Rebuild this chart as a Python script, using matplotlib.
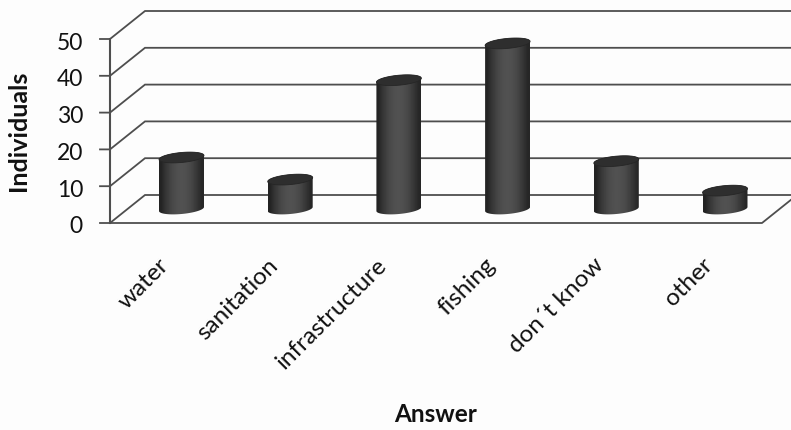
#!/usr/bin/env python3
import numpy as np
import matplotlib
matplotlib.use('Agg')
from matplotlib import pyplot as plt
from matplotlib.patches import PathPatch, Polygon
from matplotlib.path import Path

plt.rcParams['font.family'] = ['Lato', 'DejaVu Sans']

##### DATA
answers = ['water', 'sanitation', 'infrastructure', 'fishing', 'don\u00b4t know', 'other']
individuals = [14, 8, 35, 45, 13, 5]
y_ticks = [0, 10, 20, 30, 40, 50]

##### SCALES (one category = 108.7 px, one individual = 3.68 px)
PX_X = 108.7
PX_Y = 3.68
X_LEFT = -181.5 / PX_X
X_RIGHT = (791 - 181.5) / PX_X
Y_BOTTOM = (223 - 430) / PX_Y
Y_TOP = 223 / PX_Y

# oblique offset of the back wall and of the bars standing on the floor
DEPTH_X = 35 / PX_X
DEPTH_Y = 28 / PX_Y
BAR_LIFT = 14 / PX_Y
BAR_RX = 22.5 / PX_X
BAR_RY = 5.0 / PX_Y
BAR_TILT = 2.0 / PX_Y

LINE = '#4e4e4e'
TEXT = '#111111'


def rim(cx, cy, start, stop):
    # points along a slightly tilted ellipse
    t = np.linspace(start, stop, 60)
    return np.column_stack([cx + BAR_RX * np.cos(t),
                            cy + BAR_RY * np.sin(t) + BAR_TILT * np.cos(t)])


def cylinder(ax, cx, value, shade):
    base = BAR_LIFT
    top = BAR_LIFT + value
    # body: upper half of the top rim joined to the lower half of the base rim
    outline = np.vstack([rim(cx, top, 0, np.pi), rim(cx, base, np.pi, 2 * np.pi)])
    im = ax.imshow(shade, extent=[cx - BAR_RX, cx + BAR_RX, base - 2, top + 2],
                   cmap='gray', vmin=0, vmax=1, aspect='auto', zorder=3,
                   interpolation='bilinear')
    clip = PathPatch(Path(outline), transform=ax.transData, facecolor='none', edgecolor='none')
    ax.add_patch(clip)
    im.set_clip_path(clip)
    ax.add_patch(Polygon(rim(cx, top, 0, 2 * np.pi), closed=True, facecolor='#2e2e2e',
                         edgecolor='#262626', linewidth=0.6, zorder=4))


fig = plt.figure(figsize=(7.91, 4.30), dpi=100, facecolor='#fdfdfd')
ax = fig.add_axes([0, 0, 1, 1])
ax.set_xlim(X_LEFT, X_RIGHT)
ax.set_ylim(Y_BOTTOM, Y_TOP)
ax.axis('off')

x0 = (110 - 181.5) / PX_X
x_floor_end = (762 - 181.5) / PX_X
tick_len = 10 / PX_X

# walls and gridlines
for v in y_ticks:
    ax.plot([x0 - tick_len, x0, x0 + DEPTH_X, X_RIGHT], [v, v, v + DEPTH_Y, v + DEPTH_Y],
            color=LINE, linewidth=1.3, solid_joinstyle='miter', zorder=1)
    ax.text(x0 - tick_len - 17 / PX_X, v - 4 / PX_Y, str(v), ha='right', va='center',
            fontsize=16.5, color=TEXT)
ax.plot([x0, x0], [0, y_ticks[-1]], color=LINE, linewidth=1.5, zorder=1)
ax.plot([x0, x_floor_end, x_floor_end + DEPTH_X], [0, 0, DEPTH_Y],
        color=LINE, linewidth=1.3, zorder=1)

# horizontal light falloff across each cylinder
shade = np.array([[0.14, 0.2, 0.25, 0.29, 0.31, 0.32, 0.31, 0.29, 0.25, 0.2, 0.15]])
for i, value in enumerate(individuals):
    cylinder(ax, i, value, shade)
ax.set_xlim(X_LEFT, X_RIGHT)
ax.set_ylim(Y_BOTTOM, Y_TOP)

# category labels end up and to the left of each bar centre
for i, label in enumerate(answers):
    ax.text(i - 16 / PX_X, -39 / PX_Y, label, rotation=45, rotation_mode='anchor',
            ha='right', va='center', fontsize=17.5, color=TEXT)

ax.text((436 - 181.5) / PX_X, (223 - 414) / PX_Y, 'Answer', ha='center', va='center',
        fontsize=17.5, fontweight='bold', color=TEXT)
ax.text((19 - 181.5) / PX_X, (223 - 131) / PX_Y, 'Individuals', rotation=90,
        ha='center', va='center', fontsize=18, fontweight='bold', color=TEXT)

fig.savefig('out.png', dpi=100, facecolor=fig.get_facecolor())
